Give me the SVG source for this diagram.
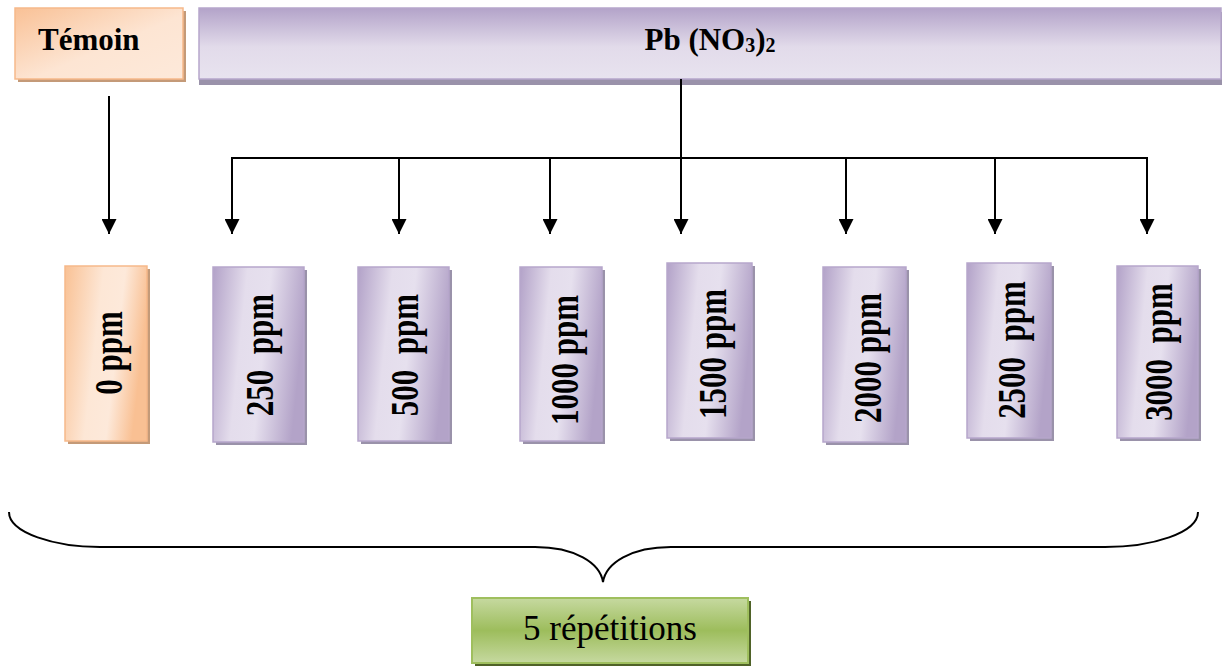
<svg xmlns="http://www.w3.org/2000/svg" width="1223" height="669" viewBox="0 0 1223 669">
  <defs>
    <linearGradient id="gOrangeH" x1="0" y1="0" x2="1" y2="0.25">
      <stop offset="0" stop-color="#f9c194"/>
      <stop offset="0.45" stop-color="#fde7d6"/>
      <stop offset="0.7" stop-color="#fde9da"/>
      <stop offset="1" stop-color="#f9c093"/>
    </linearGradient>
    <linearGradient id="gOrangeT" x1="0" y1="0" x2="1" y2="1">
      <stop offset="0" stop-color="#f9c196"/>
      <stop offset="0.55" stop-color="#fde5d3"/>
      <stop offset="1" stop-color="#fde9da"/>
    </linearGradient>
    <linearGradient id="gPurpleH" x1="0" y1="0.1" x2="1" y2="0.3">
      <stop offset="0" stop-color="#b5a5ca"/>
      <stop offset="0.35" stop-color="#e4ddec"/>
      <stop offset="0.6" stop-color="#e6e0ee"/>
      <stop offset="1" stop-color="#b3a3c8"/>
    </linearGradient>
    <linearGradient id="gPurpleV" x1="0" y1="0" x2="0" y2="1">
      <stop offset="0" stop-color="#b3a3c9"/>
      <stop offset="0.55" stop-color="#e2dbea"/>
      <stop offset="1" stop-color="#e8e3ef"/>
    </linearGradient>
    <linearGradient id="gGreen" x1="0" y1="0" x2="0" y2="1">
      <stop offset="0" stop-color="#c6d9a0"/>
      <stop offset="0.5" stop-color="#9dbd5c"/>
      <stop offset="1" stop-color="#c6d9a0"/>
    </linearGradient>
    <marker id="arrow" viewBox="0 0 10 10" refX="10" refY="5" markerWidth="15" markerHeight="15" markerUnits="userSpaceOnUse" orient="auto">
      <path d="M0,0 L10,5 L0,10 Z" fill="#000"/>
    </marker>
  </defs>
  <style>
    .orange { stroke: #f6b98a; stroke-width: 1.5; }
    .purple { stroke: #b6a6cb; stroke-width: 1.5; }
    .green  { stroke: #9fbf5e; stroke-width: 2; }
    .shO { fill: #c49a78; }
    .shP { fill: #9a92aa; }
    .shG { fill: #4f6228; }
    .label { font-family: "Liberation Serif", "Times New Roman", serif; font-weight: bold; font-size: 31px; fill: #000; }
    .vlabel { font-family: "Liberation Serif", "Times New Roman", serif; font-weight: bold; font-size: 31px; fill: #000; text-anchor: middle; white-space: pre; }
    .conn { stroke: #000; stroke-width: 2; fill: none; }
  </style>

  <!-- header boxes -->
  <g id="temoin">
    <rect x="18" y="11" width="168" height="71" class="shO"/>
    <rect x="15" y="8" width="168" height="71" fill="url(#gOrangeT)" class="orange"/>
    <text x="38" y="50" class="label">Témoin</text>
  </g>
  <g id="pb">
    <rect x="199" y="12" width="1023" height="73" class="shP"/>
    <rect x="199" y="8" width="1022" height="71" fill="url(#gPurpleV)" class="purple"/>
    <text x="710" y="50" class="label" text-anchor="middle">Pb (NO<tspan font-size="20" dy="2">3</tspan><tspan dy="-2">)</tspan><tspan font-size="20" dy="2">2</tspan></text>
  </g>

  <!-- connectors -->
  <g id="connectors">
    <line x1="109" y1="96" x2="109" y2="234" class="conn" marker-end="url(#arrow)"/>
    <line x1="681" y1="79" x2="681" y2="234" class="conn" marker-end="url(#arrow)"/>
    <polyline points="232,234 232,158 1147,158 1147,234" class="conn" marker-end="url(#arrow)"/>
    <line x1="232" y1="200" x2="232" y2="234" class="conn" marker-end="url(#arrow)"/>
    <line x1="399" y1="158" x2="399" y2="234" class="conn" marker-end="url(#arrow)"/>
    <line x1="550" y1="158" x2="550" y2="234" class="conn" marker-end="url(#arrow)"/>
    <line x1="846" y1="158" x2="846" y2="234" class="conn" marker-end="url(#arrow)"/>
    <line x1="995" y1="158" x2="995" y2="234" class="conn" marker-end="url(#arrow)"/>
    <!-- brace -->
    <path d="M9,512 C9,533 55,547 100,547 L535,547 C575,547 600,563 603,582 C606,563 631,547 671,547 L1105,547 C1152,547 1198,533 1198,512" class="conn"/>
  </g>

  <!-- concentration nodes -->
  <g id="n0">
    <rect x="68" y="269" width="82" height="175" class="shO"/>
    <rect x="65" y="266" width="82" height="175" fill="url(#gOrangeH)" class="orange"/>
    <text transform="translate(122,353) rotate(-90) scale(1,1.3)" class="vlabel">0 ppm</text>
  </g>
  <g id="n250">
    <rect x="216" y="270" width="91" height="175" class="shP"/>
    <rect x="213" y="267" width="91" height="175" fill="url(#gPurpleH)" class="purple"/>
    <text transform="translate(273,355) rotate(-90) scale(1,1.3)" class="vlabel">250  ppm</text>
  </g>
  <g id="n500">
    <rect x="361" y="270" width="91" height="174" class="shP"/>
    <rect x="358" y="267" width="91" height="174" fill="url(#gPurpleH)" class="purple"/>
    <text transform="translate(418,355) rotate(-90) scale(1,1.3)" class="vlabel">500  ppm</text>
  </g>
  <g id="n1000">
    <rect x="523" y="270" width="82" height="174" class="shP"/>
    <rect x="520" y="267" width="82" height="174" fill="url(#gPurpleH)" class="purple"/>
    <text transform="translate(578,360) rotate(-90) scale(1,1.3)" class="vlabel">1000 ppm</text>
  </g>
  <g id="n1500">
    <rect x="670" y="266" width="85" height="175" class="shP"/>
    <rect x="667" y="263" width="85" height="175" fill="url(#gPurpleH)" class="purple"/>
    <text transform="translate(726,354) rotate(-90) scale(1,1.3)" class="vlabel">1500 ppm</text>
  </g>
  <g id="n2000">
    <rect x="826" y="270" width="83" height="175" class="shP"/>
    <rect x="823" y="267" width="83" height="175" fill="url(#gPurpleH)" class="purple"/>
    <text transform="translate(881,358) rotate(-90) scale(1,1.3)" class="vlabel">2000 ppm</text>
  </g>
  <g id="n2500">
    <rect x="970" y="266" width="84" height="175" class="shP"/>
    <rect x="967" y="263" width="84" height="175" fill="url(#gPurpleH)" class="purple"/>
    <text transform="translate(1025,350) rotate(-90) scale(1,1.3)" class="vlabel">2500  ppm</text>
  </g>
  <g id="n3000">
    <rect x="1120" y="269" width="81" height="172" class="shP"/>
    <rect x="1117" y="266" width="81" height="172" fill="url(#gPurpleH)" class="purple"/>
    <text transform="translate(1172,352) rotate(-90) scale(1,1.3)" class="vlabel">3000  ppm</text>
  </g>

  <!-- repetitions -->
  <g id="repetitions">
    <rect x="475" y="601" width="276" height="65" class="shG"/>
    <rect x="472" y="598" width="276" height="65" fill="url(#gGreen)" class="green"/>
    <text x="610" y="640" font-family="'Liberation Serif', 'Times New Roman', serif" font-size="35" text-anchor="middle" fill="#000">5 répétitions</text>
  </g>
</svg>
